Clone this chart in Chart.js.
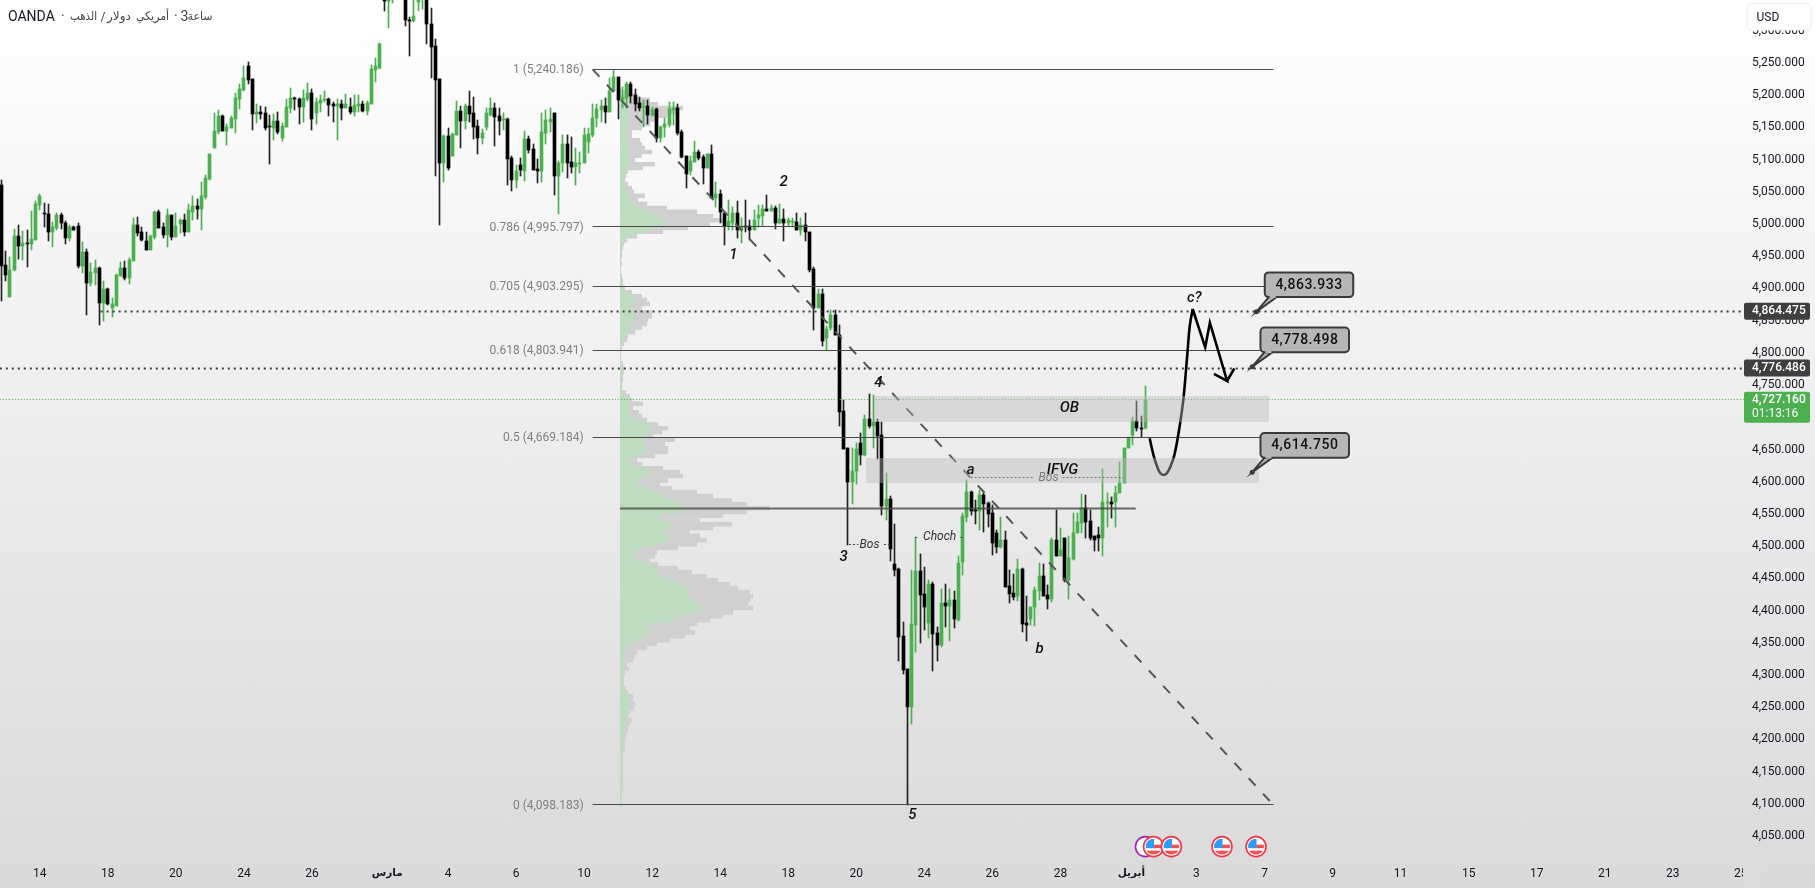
<!DOCTYPE html>
<html><head><meta charset="utf-8">
<script src="https://cdn.jsdelivr.net/npm/chart.js@4/dist/chart.umd.min.js"></script>
<style>html,body{margin:0;padding:0;overflow:hidden;background:linear-gradient(#ffffff,#dadada);width:1815px;height:888px}canvas{display:block}</style>
</head><body><canvas id="c" width="1815" height="888"></canvas>
<script>
const opens=[5061,4936,4887,4928,4981,4966,4971,4969,4976,5030,5017,5016,4987,4994,5014,5002,4979,4995,4997,4935,4957,4908,4924,4932,4878,4899,4870,4873,4919,4932,4916,4943,4998,4988,4974,4960,4980,5019,4995,4983,5014,4980,5000,5006,4988,5019,5028,5023,5042,5070,5118,5143,5168,5144,5149,5163,5194,5208,5245,5225,5171,5174,5172,5152,5149,5160,5134,5151,5180,5196,5194,5182,5194,5203,5172,5188,5193,5194,5186,5183,5186,5180,5182,5174,5183,5186,5175,5186,5239,5242,5368,5347,5353,5395,5370,5368,5317,5315,5345,5349,5358,5311,5276,5225,5095,5137,5106,5138,5175,5160,5183,5172,5152,5134,5151,5169,5180,5168,5163,5163,5103,5068,5092,5082,5132,5117,5085,5083,5142,5159,5173,5075,5094,5124,5096,5088,5093,5094,5127,5138,5164,5177,5183,5174,5206,5228,5192,5195,5217,5200,5188,5181,5183,5169,5178,5133,5150,5154,5177,5180,5143,5106,5083,5096,5112,5104,5087,5109,5040,5047,5017,4997,5002,5017,4991,4997,4997,4990,5009,5012,5023,5021,5025,5002,5008,5001,5003,5003,4991,4999,4987,4930,4869,4891,4823,4838,4859,4828,4710,4652,4600,4616,4660,4641,4698,4687,4693,4673,4562,4573,4472,4465,4361,4309,4251,4378,4461,4426,4381,4441,4365,4347,4411,4407,4416,4386,4476,4546,4584,4556,4555,4579,4567,4551,4521,4498,4510,4438,4427,4422,4465,4380,4387,4405,4430,4454,4424,4418,4510,4485,4512,4447,4480,4521,4536,4559,4539,4515,4517,4513,4567,4568,4568,4582,4598,4653,4672,4695,4684,4684];
const closes=[4935,4921,4929,4981,4966,4971,4969,4977,5031,5044,5016,4987,4995,5014,5001,4979,4995,4991,4935,4957,4908,4926,4932,4878,4899,4876,4876,4921,4932,4916,4944,4998,4986,4975,4960,4981,5019,4994,4983,5014,4980,4997,5006,4988,5022,5028,5023,5044,5071,5109,5144,5168,5144,5151,5165,5196,5210,5227,5224,5171,5174,5171,5149,5151,5160,5143,5152,5182,5196,5194,5182,5196,5203,5163,5189,5193,5194,5185,5183,5186,5180,5186,5174,5185,5186,5175,5188,5241,5245,5280,5347,5379,5390,5370,5390,5316,5315,5323,5350,5360,5310,5275,5224,5095,5137,5087,5140,5175,5160,5183,5171,5151,5134,5141,5172,5180,5166,5160,5163.5,5101,5068,5082,5084,5132,5115,5084,5082,5143,5162,5163,5075,5095,5124,5095,5088,5094,5095,5138,5140,5165,5178,5183,5174,5206,5228,5192,5198,5217,5199,5186,5180,5183,5169,5177,5133,5150,5155,5178,5180,5142,5104,5078,5098,5112,5102,5087,5109,5040,5047,5018,4997,5004,5017,4991,4997,4995,4990,5006,5014,5023,5021,5025,5002,5008,5002,5006,5005,4991,4999,4987,4929,4869,4891,4818,4837,4859,4827,4709,4651,4600,4617,4651,4641,4698,4687,4693,4671,4562,4573,4496,4463,4359,4308,4251,4379,4461,4424,4405,4441,4364,4347,4411,4407,4416,4387,4474,4547,4584,4554,4555,4579,4565,4550,4505,4498,4510,4437,4426,4421,4465,4379,4377,4405,4432,4454,4423,4418,4510,4485,4494,4447,4481,4521,4537,4559,4537,4513,4509,4513,4568,4569,4566,4582,4598,4653,4668,4695,4684,4683,4727.16];
const highs=[5068,4958,4949,4992,4998,4989,4991,5021,5036,5047,5032,5031,5003,5017,5017,5005,4998,4997,5002,4972,4961,4939,4944,4933,4912,4901,4885,4922,4941,4943,4947,5009,5011,4995,4988,4983,5020,5022,5001,5023,5014,5017,5008,5016,5031,5043,5039,5065,5076,5109,5172,5177,5169,5156,5167,5204,5218,5245,5251,5225,5186,5183,5182,5169,5171,5174,5157,5194,5211,5197,5196,5208,5219,5210,5196,5200,5207,5196,5189,5194,5193,5202,5196,5200,5200,5191,5191,5247,5258,5281,5384,5390,5400,5410,5400,5379,5321,5350,5365,5375,5375,5336,5288,5225,5138,5149,5141,5191,5183,5186,5207,5197,5162,5147,5180,5196,5188,5180,5172,5165,5106,5092,5103,5144,5137,5124,5101,5172,5177,5180,5173,5098,5138,5138,5135,5118,5112,5149,5149,5187,5187,5193,5195,5226,5239,5228,5213,5221,5221,5209,5198,5193,5193,5181,5180,5152,5164,5190,5190,5186,5146,5106,5106,5129,5115,5107,5109,5123,5066,5053,5017,5037,5027,5036,5009,5037,5006,5022,5030,5030,5045,5030,5028,5031,5023,5010,5009,5017,5009,5017,4987,4933,4899,4899,4842,4867,4867,4843,4727,4653,4652,4660,4676,4704,4736,4735,4698,4693,4614,4578,4535,4466,4382,4310,4463,4514,4488,4467,4447,4445,4374,4433,4442,4433,4430,4484,4551,4603,4585,4572,4587,4582,4569,4564,4525,4546,4523,4463,4457,4480,4466,4422,4406,4437,4474,4473,4440,4512,4556,4528,4512,4515,4551,4551,4581,4579,4556,4515,4530,4620,4582,4577,4594,4631,4653,4670,4701,4726,4702,4749];
const lows=[4880,4912,4887,4927,4946,4944,4934,4959,4976,5022,4995,4974,4965,4990,4993,4969,4974,4991,4932,4924,4859,4904,4905,4844,4849,4874,4855,4873,4919,4913,4907,4943,4981,4974,4960,4960,4977,4994,4978,4964,4975,4980,4986,4981,4988,5006,5008,4991,5039,5068,5118,5140,5144,5123,5149,5141,5179,5207,5217,5146,5157,5163,5146,5093,5130,5140,5129,5151,5172,5177,5155,5158,5191,5146,5155,5174,5190,5168,5158,5130,5162,5180,5171,5168,5174,5174,5169,5186,5220,5241,5331,5305,5343,5355,5352,5308,5261,5313,5330,5334,5279,5227,5074,4998,5066,5084,5106,5138,5118,5147,5158,5132,5109,5124,5146,5168,5121,5138,5146,5061,5051,5056,5075,5067,5110,5084,5064,5065,5125,5143,5045,5016,5081,5071,5079,5061,5080,5094,5110,5135,5150,5159,5157,5174,5206,5163,5180,5180,5188,5176,5176,5150,5155,5167,5128,5128,5135,5150,5154,5138,5102,5056,5076,5096,5099,5062,5087,5040,5027,5001,4968,4991,4991,4978,4971,4988,4975,4990,4996,4997,5021,5021,4992,5000,4974,4997,4996,4991,4983,4973,4926,4835,4869,4810,4805,4836,4827,4686,4651,4502,4565,4596,4626,4640,4684,4652,4636,4548,4541,4477,4453,4321,4302,4098,4224,4336,4349,4370,4358,4306,4321,4344,4375,4352,4373,4384,4455,4538,4548,4534,4525,4522,4530,4486,4489,4497,4437,4412,4416,4415,4367,4352,4378,4376,4416,4423,4403,4414,4485,4485,4445,4418,4478,4520,4520,4512,4509,4492,4492,4484,4530,4543,4530,4582,4598,4653,4657,4679,4669,4682];
const xTickBars=[9,25,41,57,73,90.7,105,121,137,153,169,185,201,217,233,249,265.7,281,297,313,329,345,361,377,393,409];
const xTickLabels=["14","18","20","24","26","مارس","4","6","10","12","14","18","20","24","26","28","أبريل","3","7","9","11","15","17","21","23","25"];
const monthLabels=["مارس","أبريل"];
const yTicks=[5300,5250,5200,5150,5100,5050,5000,4950,4900,4850,4800,4750,4700,4650,4600,4550,4500,4450,4400,4350,4300,4250,4200,4150,4100,4050];
const volLevels=[5205,5199,5193,5186,5180,5174,5168,5162,5155,5149,5143,5137,5130,5124,5118,5112,5106,5099,5093,5087,5081,5075,5068,5062,5056,5050,5044,5037,5031,5025,5019,5012,5006,5000,4994,4988,4981,4975,4969,4963,4957,4950,4944,4938,4932,4926,4919,4913,4907,4901,4894,4888,4882,4876,4870,4863,4857,4851,4845,4839,4832,4826,4820,4814,4807,4801,4795,4789,4783,4776,4770,4764,4758,4752,4745,4739,4733,4727,4721,4714,4708,4702,4696,4689,4683,4677,4671,4665,4658,4652,4646,4640,4634,4627,4621,4615,4609,4602,4596,4590,4584,4578,4571,4565,4559,4553,4547,4540,4534,4528,4522,4516,4509,4503,4497,4491,4484,4478,4472,4466,4460,4453,4447,4441,4435,4429,4422,4416,4410,4404,4397,4391,4385,4379,4373,4366,4360,4354,4348,4342,4335,4329,4323,4317,4310,4304,4298,4292,4286,4279,4273,4267,4261,4255,4248,4242,4236,4230,4224,4217,4211,4205,4199,4192,4186,4180,4174,4168,4161,4155,4149,4143,4137,4130,4124,4118,4112,4106,4099];
const volTotal=[7,17,30,38,63,57,47,38,30,22,12,12,20,22,25,32,22,15,35,23,8,6,5,8,12,14,25,18,27,47,77,93,102,90,68,43,17,7,4,3,2,2,1,2,1,1,2,3,3,5,12,22,27,30,22,32,32,28,27,22,15,8,7,4,2,1,1,1,3,4,4,3,3,2,2,6,10,12,23,13,19,22,27,38,48,42,33,55,45,48,48,35,17,22,43,60,63,48,40,52,77,93,112,127,150,127,103,80,112,93,70,80,87,77,58,37,35,30,38,58,72,87,98,110,118,130,133,130,128,133,113,103,90,77,70,75,65,50,37,27,17,15,13,7,9,5,4,4,4,6,8,13,13,15,14,10,8,12,10,8,7,6,5,5,5,3,3,3,3,3,3,3,3,3,3,2,2,2,2];
const volGreen=[4,6,6,7,8,8,8,8,8,7,6,7,8,8,9,9,9,8,10,9,5,5,4,6,7,8,10,10,14,20,30,38,45,42,35,25,10,5,3,2,1,1,1,1,1,1,1,2,2,3,7,12,14,15,12,15,15,13,13,11,8,5,4,2,1,1,1,1,1,2,2,2,1,1,1,3,5,10,10,9,10,10,17,30,30,28,23,23,26,26,25,17,10,12,28,30,27,17,15,27,37,43,53,60,70,57,42,40,53,50,42,47,48,38,23,15,13,18,30,38,38,40,50,60,70,68,68,73,80,83,73,58,50,30,28,32,25,17,12,7,4,5,5,3,5,3,3,3,3,4,5,9,9,9,9,6,5,7,6,5,4,4,3,3,3,2,2,2,2,2,2,2,2,2,2,2,2,2,2];
const volBaseBar=145.45, volBarsPerUnit=1/4.2525;
const fibLevels=[5240.186,4995.797,4903.295,4803.941,4669.184,4098.183];
const fibLabels=["1 (5,240.186)","0.786 (4,995.797)","0.705 (4,903.295)","0.618 (4,803.941)","0.5 (4,669.184)","0 (4,098.183)"];
const fibBars=[139,299.1], fibLabelBar=136.9;
const trendBars=[139,299.1], trendPrices=[5240.186,4098.183];
const pocPrice=4558, pocBars=[145.45,266.7];
const dotted1=[23.3,410.2,4864.475], dotted2=[-0.4,410.2,4776.486], lastLine=[-0.4,410.2,4727.16];
const curveBars=[270.0,270.5,271.1,271.9,272.5,273.2,274.0,274.7,275.8,276.9,277.9,278.8,279.4,280.1];
const curvePrices=[4667.4,4651.9,4636.3,4620.8,4613.1,4610.5,4613.1,4620.8,4641.5,4680.3,4726.9,4794.2,4840.7,4868.1];
const zigBars=[280.1,283.05,284.15,288.2,285.1,288.2,289.9];
const zigPrices=[4868.1,4808.6,4846.9,4756.4,4767.3,4756.4,4776.0];
const connectors=[[199.3,201.5,4502],[207.5,209,4502],[214.9,215.7,4514],[225.5,226.2,4514],[227.9,242.7,4606],[249.5,263.8,4606]];
const boxes=[[205.06,298,4733,4692.7],[203.4,295.8,4636.8,4598]];
const notes=[["1",172.1,4952],["2",183.9,5065],["3",198,4482],["4",206.2,4753],["5",214.2,4083],["a",227.9,4618],["b",244.1,4340],["c?",280.5,4885],["OB",251.1,4714.5],["IFVG",249.5,4618]];
const smallNotes=[["Bos",204.1,4502,"#333"],["Choch",220.6,4514,"#333"],["Bos",246.2,4606,"#777"]];
const callouts=[["4,863.933",295.1,4863.933],["4,778.498",294.1,4778.498],["4,614.750",294.1,4614.75]];
const priceTags=[["4,864.475",4864.475],["4,776.486",4776.486]];
const lastPriceTag=["4,727.160","01:13:16",4727.16];
const eventBars=[270.9,275.1,287,295], purpleEventBar=269, eventPrice=4033.5;

const GREEN='#4caf50', BLACK='#000';
const bars=opens.map((_,i)=>i);
const isUp=i=>closes[i]>=opens[i];
const lineDs=(pts,o)=>Object.assign({type:'line',data:pts,pointRadius:0,borderWidth:1,borderColor:'#555',tension:0,fill:false,spanGaps:false,order:1},o);
const gapPt={x:NaN,y:NaN};
function volPts(arr){const p=[];volLevels.forEach((lv,i)=>{if(arr[i]===undefined)return;p.push({x:volBaseBar,y:lv},{x:volBaseBar+arr[i]*volBarsPerUnit,y:lv},gapPt);});return p;}
const fibDs=fibLevels.map(l=>lineDs([{x:fibBars[0],y:l},{x:fibBars[1],y:l}],{snapY:true,borderColor:'#4a4a4a'}));
const connPts=[];connectors.forEach(c=>{connPts.push({x:c[0],y:c[2]},{x:c[1],y:c[2]},gapPt);});

const datasets=[
 lineDs(volPts(volTotal),{borderWidth:4.5,borderColor:'#d0d0d0',order:20}),
 lineDs(volPts(volGreen),{borderWidth:4.5,borderColor:'#c0dcc0',order:19}),
 {type:'bar',grouped:false,order:11,barThickness:1,borderWidth:0,borderSkipped:false,
  backgroundColor:bars.map(i=>isUp(i)?GREEN:'#222'),
  data:bars.map(i=>({x:i,y:[lows[i],highs[i]]}))},
 {type:'bar',grouped:false,order:10,barThickness:3,borderWidth:0,borderSkipped:false,
  backgroundColor:bars.map(i=>isUp(i)?GREEN:BLACK),
  data:bars.map(i=>({x:i,y:[opens[i],closes[i]]}))},
 ...fibDs,
 lineDs([{x:pocBars[0],y:pocPrice},{x:pocBars[1],y:pocPrice}],{snapY:true,borderWidth:2,borderColor:'rgba(70,70,70,.8)'}),
 lineDs([{x:trendBars[0],y:trendPrices[0]},{x:trendBars[1],y:trendPrices[1]}],{borderWidth:2,borderColor:'#555',borderDash:[10,11]}),
 lineDs([{x:dotted1[0],y:dotted1[2]},{x:dotted1[1],y:dotted1[2]}],{snapY:true,borderWidth:2,borderColor:'#3c3c3c',borderDash:[2,4]}),
 lineDs([{x:dotted2[0],y:dotted2[2]},{x:dotted2[1],y:dotted2[2]}],{snapY:true,borderWidth:2,borderColor:'#3c3c3c',borderDash:[2,4]}),
 lineDs([{x:lastLine[0],y:lastLine[2]},{x:lastLine[1],y:lastLine[2]}],{snapY:true,borderWidth:1,borderColor:GREEN,borderDash:[1,2]}),
 lineDs(connPts,{snapY:true,borderWidth:1,borderColor:'#444',borderDash:[2,2]}),
 lineDs(curveBars.map((b,i)=>({x:b,y:curvePrices[i]})),{borderWidth:2.6,borderColor:'#000',tension:.35,order:0}),
 lineDs(zigBars.map((b,i)=>({x:b,y:zigPrices[i]})),{borderWidth:2.6,borderColor:'#000',order:0})
];

const snap={id:'snap',beforeDatasetsDraw(chart){
 chart.data.datasets.forEach((d,di)=>{
  const meta=chart.getDatasetMeta(di);
  if(d.type==='bar'){
   meta.data.forEach(el=>{
    el.x=Math.floor(el.x)+.5;
    const a=Math.round(el.y),b=Math.round(el.base);
    el.y=a;el.base=(a===b)?a+1:b;
   });
  }else if(d.snapY){
   meta.data.forEach(el=>{if(!el.skip&&isFinite(el.y))el.y=Math.round(el.y-.5)+.5;});
  }
 });
}};

function rr(ctx,x,y,w,h,r){ctx.beginPath();ctx.roundRect(x,y,w,h,r);}
const overlay={id:'overlay',
 afterDatasetsDraw(chart){
  const ctx=chart.ctx,X=chart.scales.x,Y=chart.scales.y;
  ctx.save();
  ctx.beginPath();ctx.rect(0,0,chart.chartArea.right,chart.chartArea.bottom);ctx.clip();
  ctx.fillStyle='rgba(186,186,186,.42)';
  boxes.forEach(b=>{const x0=Math.round(X.getPixelForValue(b[0])),x1=Math.round(X.getPixelForValue(b[1])),y0=Math.round(Y.getPixelForValue(b[2])),y1=Math.round(Y.getPixelForValue(b[3]));ctx.fillRect(x0,y0,x1-x0,y1-y0);});
  ctx.font="12px Roboto";ctx.fillStyle='#808080';ctx.textAlign='right';ctx.textBaseline='middle';
  fibLevels.forEach((l,i)=>ctx.fillText(fibLabels[i],X.getPixelForValue(fibLabelBar),Y.getPixelForValue(l)+1));
  ctx.textAlign='center';ctx.fillStyle='#111';ctx.font="italic 500 15px Roboto";
  notes.forEach(n=>ctx.fillText(n[0],X.getPixelForValue(n[1]),Y.getPixelForValue(n[2])));
  ctx.font="italic 12px Roboto";
  smallNotes.forEach(n=>{ctx.fillStyle=n[3];ctx.fillText(n[0],X.getPixelForValue(n[1]),Y.getPixelForValue(n[2]));});
  callouts.forEach(c=>{
   const tx=X.getPixelForValue(c[1]),ty=Y.getPixelForValue(c[2]);
   const bx=tx+8.3,by=ty-39.3,bw=88.5,bh=24.7;
   ctx.lineWidth=2;ctx.strokeStyle='#3a3a3a';ctx.fillStyle='#b6b6b6';
   ctx.beginPath();ctx.moveTo(bx+4,by+bh);ctx.lineTo(tx,ty);ctx.lineTo(bx+12,by+bh);ctx.closePath();ctx.fill();ctx.stroke();
   rr(ctx,bx,by,bw,bh,4);ctx.fill();ctx.stroke();
   ctx.fillStyle='#b6b6b6';ctx.fillRect(bx+5,by+bh-2,6,3);
   ctx.fillStyle='#3a3a3a';ctx.beginPath();ctx.arc(tx,ty,2.5,0,7);ctx.fill();
   ctx.fillStyle='#111';ctx.font="500 14px Roboto";ctx.textAlign='center';ctx.letterSpacing='0.5px';
   ctx.fillText(c[0],bx+bw/2,by+bh/2+.5);
   ctx.letterSpacing='0px';
  });
  const ey=Y.getPixelForValue(eventPrice);
  const px=X.getPixelForValue(purpleEventBar);
  ctx.beginPath();ctx.arc(px,ey,10,0,7);ctx.fillStyle='#fff';ctx.fill();ctx.lineWidth=1.6;ctx.strokeStyle='#9c27b0';ctx.stroke();
  eventBars.forEach(b=>{
   const ex=X.getPixelForValue(b);
   ctx.save();
   ctx.beginPath();ctx.arc(ex,ey,10,0,7);ctx.fillStyle='#fff';ctx.fill();ctx.lineWidth=1.6;ctx.strokeStyle='#f23645';ctx.stroke();
   ctx.beginPath();ctx.arc(ex,ey,8,0,7);ctx.clip();
   ctx.fillStyle='#fff';ctx.fillRect(ex-8,ey-8,16,16);
   ctx.fillStyle='#f5524f';ctx.fillRect(ex,ey-2,8,3.5);ctx.fillRect(ex-8,ey+4,16,4);
   ctx.fillStyle='#2f9bf4';ctx.fillRect(ex-8,ey-8,8.5,9.5);
   ctx.restore();
  });
  ctx.restore();
 },
 afterDraw(chart){
  const ctx=chart.ctx,Y=chart.scales.y;
  ctx.save();
  ctx.fillStyle='#dcdcdc';ctx.fillRect(1743,861,18,26);
  ctx.textAlign='left';ctx.textBaseline='middle';
  priceTags.forEach(t=>{const y=Y.getPixelForValue(t[1]);ctx.fillStyle='#3f3f3f';rr(ctx,1744,y-8.5,66,17,2);ctx.fill();ctx.fillStyle='#fff';ctx.font="500 12px Roboto";ctx.fillText(t[0],1752,y);});
  const ly=Y.getPixelForValue(lastPriceTag[2]);
  ctx.fillStyle=GREEN;rr(ctx,1744,ly-8,66,31,2);ctx.fill();
  ctx.fillStyle='#fff';ctx.font="500 12px Roboto";ctx.fillText(lastPriceTag[0],1752,ly);ctx.font="12px Roboto";ctx.fillText(lastPriceTag[1],1752,ly+14);
  ctx.fillStyle='#fff';ctx.strokeStyle='#ececec';ctx.lineWidth=1;rr(ctx,1747,3.5,64,26.5,5);ctx.fill();ctx.stroke();
  ctx.fillStyle='#131722';ctx.font="12px Roboto";ctx.fillText('USD',1756.5,17.5);
  ctx.font="14px Roboto";ctx.fillStyle='#131722';ctx.fillText('OANDA',8,17.5);
  ctx.fillStyle='#444';
  ctx.fillText('·',61,17.5);ctx.fillText('·',174,17.5);ctx.fillText('3',180.5,17.5);
  ctx.font="12px Roboto";ctx.fillText('/',100.5,17.5);
  ctx.font="12px 'DejaVu Sans'";
  [['الذهب',70,27],['دولار',107,26],['أمريكي',136,33],['ساعة',187.5,25]].forEach(w=>ctx.fillText(w[0],w[1],17,w[2]));
  ctx.restore();
 }};

new Chart(document.getElementById('c'),{
 type:'bar',
 data:{datasets},
 plugins:[snap,overlay],
 options:{
  responsive:false,animation:false,devicePixelRatio:1,
  layout:{padding:0},
  plugins:{legend:{display:false},tooltip:{enabled:false},title:{display:false}},
  scales:{
   x:{type:'linear',position:'bottom',min:-0.35,max:409.98,offset:false,
    grid:{display:false,drawTicks:false},border:{display:false},
    afterBuildTicks(a){a.ticks=xTickBars.map(v=>({value:v}));},
    afterFit(a){a.height=28;a.paddingLeft=0;a.paddingRight=0;},
    ticks:{autoSkip:false,maxRotation:0,minRotation:0,padding:7,color:'#131722',
     font:c=>(c.tick&&monthLabels.includes(c.tick.label))?{family:"'DejaVu Sans'",size:10.5,weight:'bold'}:{family:"Roboto",size:12,weight:'normal'},
     callback:v=>xTickLabels[xTickBars.indexOf(v)]}
   },
   y:{type:'linear',position:'right',min:4012.8,max:5347.8,
    grid:{display:false,drawTicks:false},border:{display:false},
    afterBuildTicks(a){a.ticks=yTicks.map(v=>({value:v}));},
    afterFit(a){a.width=70;a.paddingTop=0;a.paddingBottom=0;},
    ticks:{autoSkip:false,padding:7,color:'#131722',font:{family:'Roboto',size:12},
     callback:v=>v.toLocaleString('en-US',{minimumFractionDigits:3,maximumFractionDigits:3})}
   }
  }
 }
});
</script></body></html>
